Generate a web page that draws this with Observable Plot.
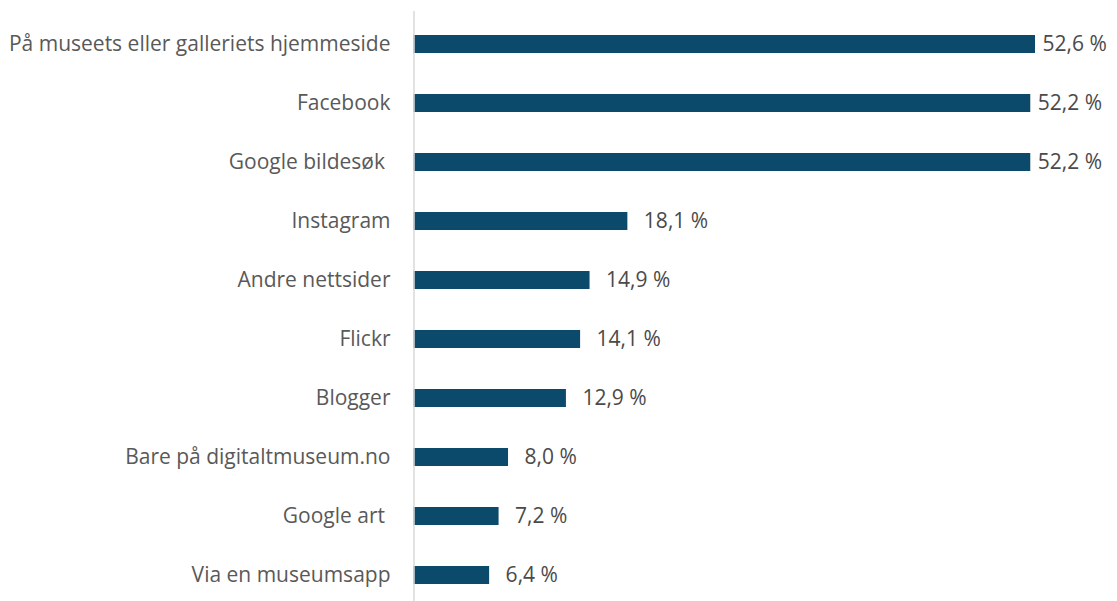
<!DOCTYPE html>
<html>
<head>
<meta charset="utf-8">
<script src="https://cdn.jsdelivr.net/npm/d3@7"></script>
<script src="https://cdn.jsdelivr.net/npm/@observablehq/plot@0.6"></script>
<style>
  html, body { margin: 0; padding: 0; background: #fff; }
  #chart svg { display: block; }
</style>
</head>
<body>
<div id="chart"></div>
<script>
const categories = [
  "På museets eller galleriets hjemmeside",
  "Facebook",
  "Google bildesøk\u00a0",
  "Instagram",
  "Andre nettsider",
  "Flickr",
  "Blogger",
  "Bare på digitaltmuseum.no",
  "Google art\u00a0",
  "Via en museumsapp"
];
const values = [52.6, 52.2, 52.2, 18.1, 14.9, 14.1, 12.9, 8.0, 7.2, 6.4];

const data = categories.map((c, i) => ({category: c, value: values[i]}));
const fmt = v => v.toFixed(1).replace(".", ",") + " %";

const chart = Plot.plot({
  width: 1117,
  height: 601,
  marginTop: 11,
  marginBottom: 0,
  marginLeft: 413.5,
  marginRight: 0,
  style: {fontFamily: "'Open Sans', sans-serif", background: "#fff"},
  x: {domain: [0, d3.max(values)], range: [413.5, 1035], axis: null},
  y: {domain: categories, range: [11.2, 606.8], paddingInner: 0.7, paddingOuter: 0.35, axis: null},
  marks: [
    Plot.barX(data, {x: "value", y: "category", fill: "#0b4a6b"}),
    Plot.ruleX([0], {stroke: "#d9d9d9", strokeWidth: 1.5}),
    Plot.text(data, {
      x: 0, y: "category", text: "category", textAnchor: "end", dx: -23.5,
      fill: "#595959", fontSize: 21
    }),
    Plot.text(data.filter(d => d.value > 50), {
      x: "value", y: "category", text: d => fmt(d.value), textAnchor: "start", dx: 7,
      fill: "#4a4a4a", fontSize: 21
    }),
    Plot.text(data.filter(d => d.value <= 50), {
      x: "value", y: "category", text: d => fmt(d.value), textAnchor: "start", dx: 16,
      fill: "#4a4a4a", fontSize: 21
    })
  ]
});
document.getElementById("chart").appendChild(chart);
</script>
</body>
</html>
